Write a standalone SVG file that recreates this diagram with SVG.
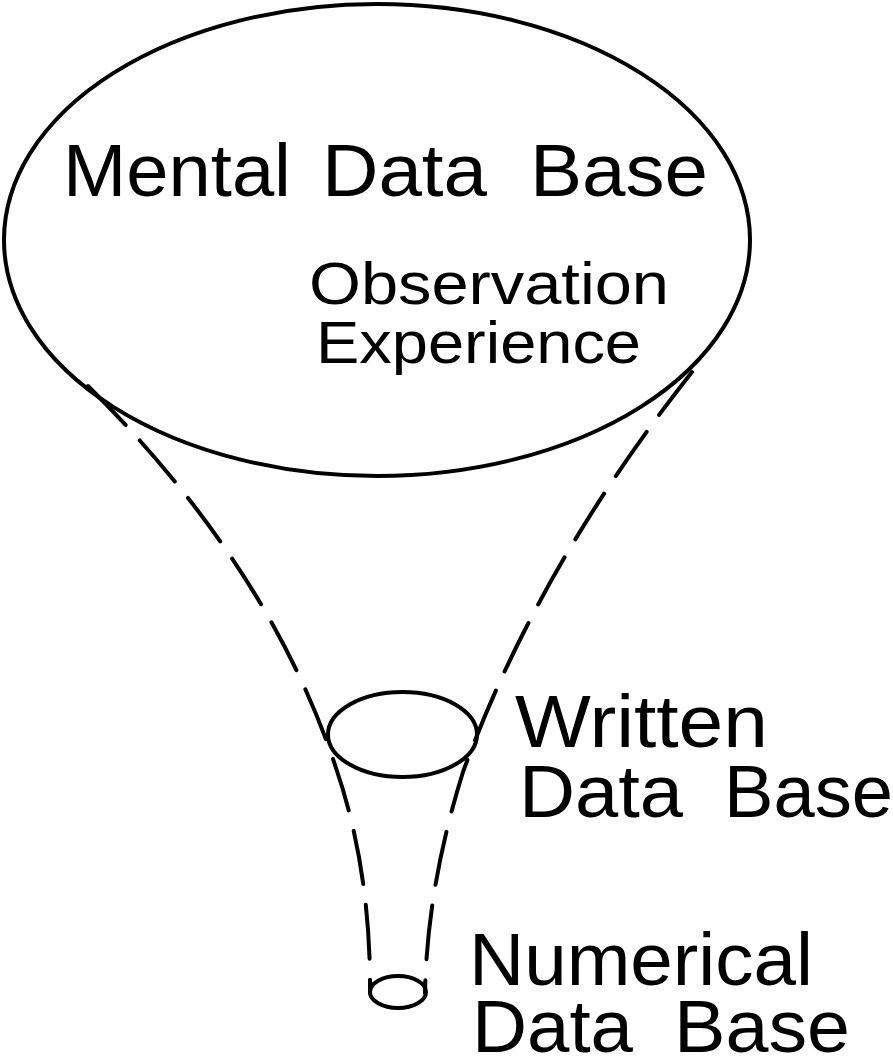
<svg xmlns="http://www.w3.org/2000/svg" width="893" height="1056" viewBox="0 0 893 1056">
<style>
.shape{fill:none;stroke:#000;stroke-width:4}
.dash{fill:none;stroke:#000;stroke-width:4;stroke-dasharray:54 21;stroke-linecap:round}
.big{font-family:"Liberation Sans",Arial,sans-serif;font-size:74px;fill:#000}
.mid{font-family:"Liberation Sans",Arial,sans-serif;font-size:60px;fill:#000}
</style>
<rect width="893" height="1056" fill="#fff"/>
<g id="connectors">
<path class="dash" d="M 88 386 Q 270 567 336 768 Q 371 870 370 993"/>
<path class="dash" d="M 692 372 Q 537 568 463 772 Q 427 887 425 993"/>
</g>
<g id="mental">
<ellipse class="shape" cx="377" cy="240" rx="373" ry="236"/>
<text class="big" y="196"><tspan x="63" textLength="228" lengthAdjust="spacingAndGlyphs">Mental</tspan><tspan x="322" textLength="165" lengthAdjust="spacingAndGlyphs">Data</tspan><tspan x="530" textLength="178" lengthAdjust="spacingAndGlyphs">Base</tspan></text>
<text class="mid" x="309" y="304" textLength="360" lengthAdjust="spacingAndGlyphs">Observation</text>
<text class="mid" x="316" y="363" textLength="325" lengthAdjust="spacingAndGlyphs">Experience</text>
</g>
<g id="written">
<ellipse class="shape" cx="402.5" cy="734.5" rx="74.5" ry="42.5"/>
<text class="big" x="515" y="747" textLength="253" lengthAdjust="spacingAndGlyphs">Written</text>
<text class="big" y="817"><tspan x="519" textLength="164" lengthAdjust="spacingAndGlyphs">Data</tspan><tspan x="724" textLength="169" lengthAdjust="spacingAndGlyphs">Base</tspan></text>
</g>
<g id="numerical">
<ellipse class="shape" cx="398" cy="992" rx="28" ry="16"/>
<text class="big" x="469" y="985" textLength="344" lengthAdjust="spacingAndGlyphs">Numerical</text>
<text class="big" y="1052"><tspan x="472" textLength="161" lengthAdjust="spacingAndGlyphs">Data</tspan><tspan x="674" textLength="176" lengthAdjust="spacingAndGlyphs">Base</tspan></text>
</g>
</svg>
